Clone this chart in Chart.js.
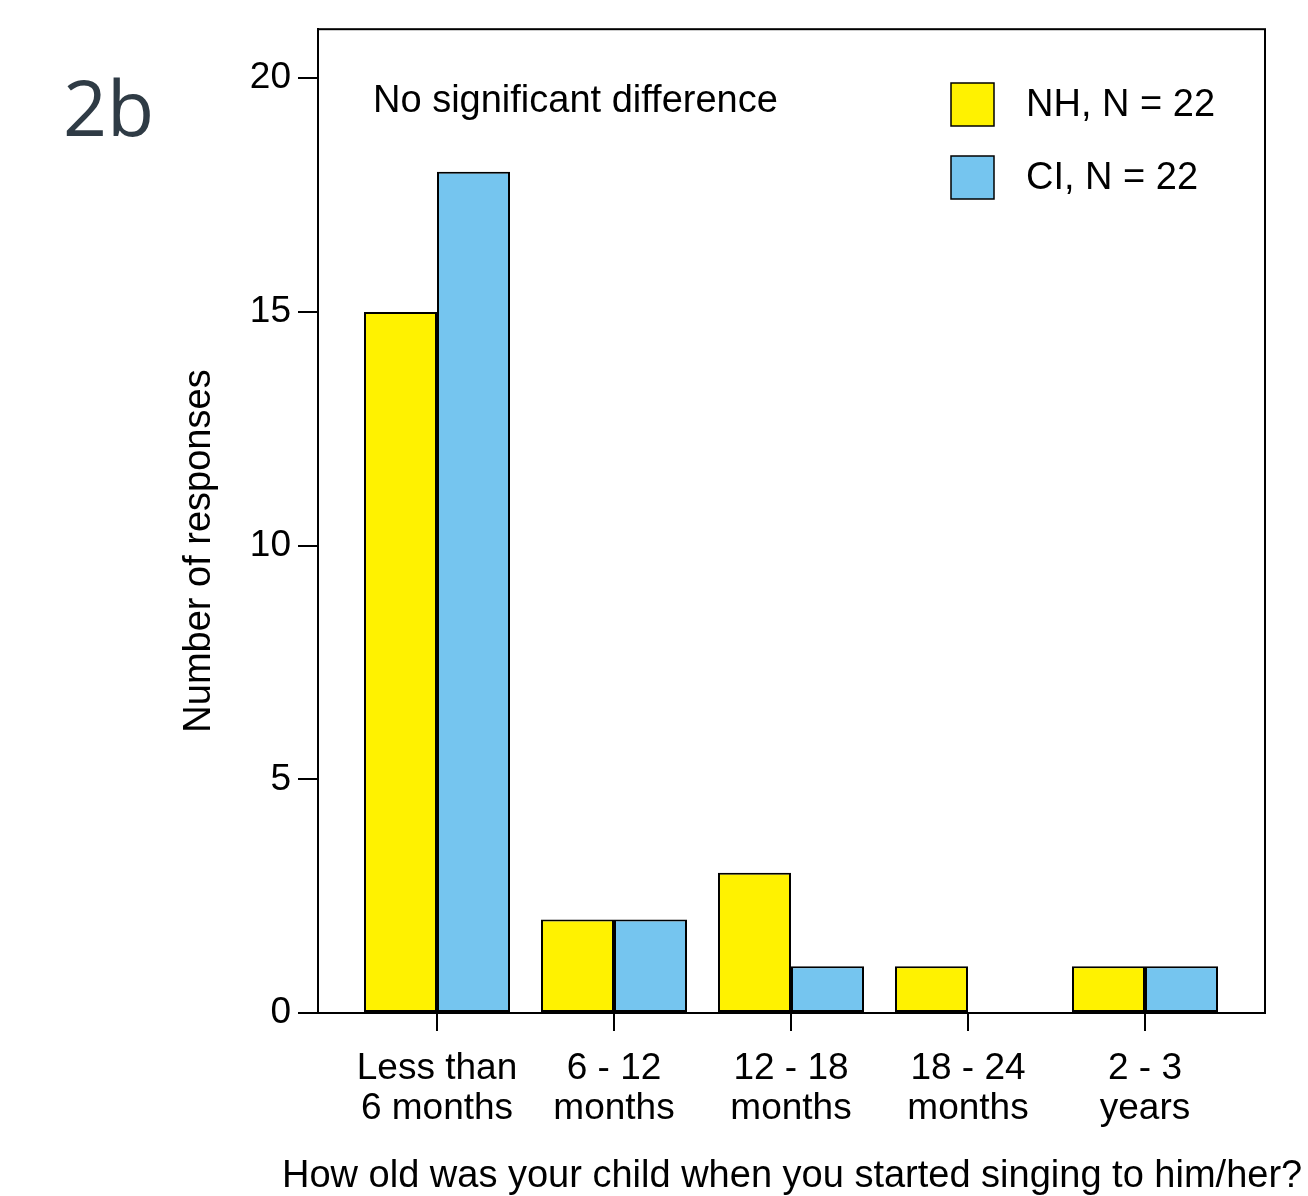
<!DOCTYPE html>
<html>
<head>
<meta charset="utf-8">
<script src="https://cdn.jsdelivr.net/npm/chart.js@4/dist/chart.umd.min.js"></script>
<style>
  html, body { margin: 0; padding: 0; background: #fff; }
  #wrap { width: 1308px; height: 1196px; }
</style>
</head>
<body>
<div id="wrap"><canvas id="chart" width="1308" height="1196"></canvas></div>
<script>
(() => {

/* ---------- DATA ---------- */

const categories = [
  ["Less than", "6 months"],
  ["6 - 12", "months"],
  ["12 - 18", "months"],
  ["18 - 24", "months"],
  ["2 - 3", "years"]
];
const nhValues = [15, 2, 3, 1, 1];
const ciValues = [18, 2, 1, 0, 1];
const seriesLabels = ["NH, N = 22", "CI, N = 22"];
const yTicks = [0, 5, 10, 15, 20];

const panelTag = "2b";
const note = "No significant difference";
const yTitle = "Number of responses";
const xTitle = "How old was your child when you started singing to him/her?";

const colors = ["#fff200", "#75c5ef"];
const FONT = "'Liberation Sans', Arial, Helvetica, sans-serif";

/* ---------- EXTRAS ---------- */

const extras = {
  id: "extras",
  afterDraw(chart) {
    const ctx = chart.ctx;
    const a = chart.chartArea;
    ctx.save();

    // box round the plot
    ctx.strokeStyle = "#000";
    ctx.lineWidth = 2;
    ctx.strokeRect(a.left, a.top, a.right - a.left, a.bottom - a.top);

    ctx.fillStyle = "#000";
    ctx.font = `38px ${FONT}`;
    ctx.textBaseline = "middle";
    ctx.textAlign = "left";
    ctx.fillText(note, 373, 102);

    // legend
    chart.data.datasets.forEach((ds, i) => {
      const y = 83 + i * 73;
      ctx.fillStyle = ds.backgroundColor;
      ctx.fillRect(951, y, 43, 43);
      ctx.lineWidth = 1.5;
      ctx.strokeStyle = "#000";
      ctx.strokeRect(951, y, 43, 43);
      ctx.fillStyle = "#000";
      ctx.fillText(ds.label, 1026, y + 23);
    });

    // axis titles
    ctx.textAlign = "left";
    ctx.textBaseline = "alphabetic";
    ctx.fillText(xTitle, 282, 1187);

    ctx.save();
    ctx.translate(210, 551);
    ctx.rotate(-Math.PI / 2);
    ctx.textAlign = "center";
    ctx.fillText(yTitle, 0, 0);
    ctx.restore();

    // panel tag
    ctx.fillStyle = "#2f3b45";
    ctx.font = `77px 'Open Sans', 'Noto Sans', sans-serif`;
    ctx.textAlign = "left";
    ctx.fillText(panelTag, 63, 136);

    ctx.restore();
  }
};

/* ---------- CHART ---------- */

const toPoints = vals => vals.map((v, i) => ({ x: i + 1, y: v }));

new Chart(document.getElementById("chart"), {
  type: "bar",
  data: {
    datasets: [
      {
        label: seriesLabels[0],
        data: toPoints(nhValues),
        backgroundColor: colors[0],
        borderColor: "#000",
        borderWidth: 2,
        borderSkipped: false
      },
      {
        label: seriesLabels[1],
        data: toPoints(ciValues),
        backgroundColor: colors[1],
        borderColor: "#000",
        borderWidth: 2,
        borderSkipped: false
      }
    ]
  },
  options: {
    responsive: false,
    animation: false,
    events: [],
    layout: { padding: { top: 28, right: 43, left: 0, bottom: 0 } },
    datasets: { bar: { categoryPercentage: 0.825, barPercentage: 1 } },
    plugins: { legend: { display: false }, tooltip: { enabled: false } },
    scales: {
      x: {
        type: "linear",
        offset: false,
        min: 0.3277,
        max: 5.678,
        afterBuildTicks: s => { s.ticks = categories.map((c, i) => ({ value: i + 1 })); },
        afterFit: s => { s.height = 183; },
        ticks: {
          callback: v => categories[v - 1],
          color: "#000",
          font: { family: FONT, size: 37, lineHeight: 1.1 },
          padding: 17,
          maxRotation: 0,
          autoSkip: false
        },
        grid: { offset: false, drawOnChartArea: false, tickLength: 18, color: "#000", lineWidth: 2 },
        border: { display: true, color: "#000", width: 2 }
      },
      y: {
        min: 0,
        max: 21.05,
        afterBuildTicks: s => { s.ticks = yTicks.map(v => ({ value: v })); },
        afterFit: s => { s.width = 318; },
        ticks: {
          color: "#000",
          font: { family: FONT, size: 37 },
          padding: 7
        },
        grid: { drawOnChartArea: false, tickLength: 20, color: "#000", lineWidth: 2 },
        border: { display: true, color: "#000", width: 2 }
      }
    }
  },
  plugins: [extras]
});

})();
</script>
</body>
</html>
